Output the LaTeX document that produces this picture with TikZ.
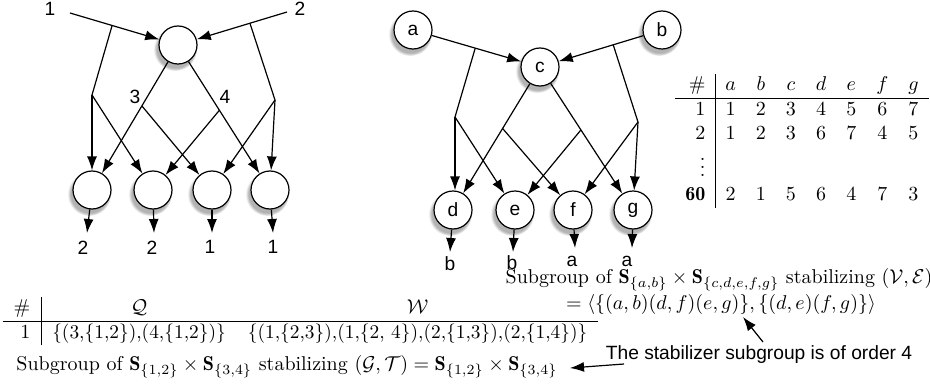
\documentclass[tikz,border=0pt]{standalone}
\usepackage{fontspec}
\usepackage{amsmath}
\usepackage{graphicx}
\newfontfamily\hv{Liberation Sans}
\usetikzlibrary{arrows.meta,shadows,calc}
\newcommand\hvf{\fontsize{9.6pt}{11pt}\selectfont\hv}
\begin{document}
\begin{tikzpicture}[x=0.5pt,y=-0.5pt,
  circ/.style={circle,draw,line width=0.6pt,fill=white,minimum size=19pt,inner sep=0pt,font=\hvf,
    circular drop shadow={shadow xshift=-1.2pt,shadow yshift=-1.8pt,shadow scale=1.15,opacity=0.6}},
  arr/.style={line width=0.6pt,-{Latex[length=7pt,width=5pt]}},
  ln/.style={line width=0.6pt},
  lab/.style={font=\hvf,inner sep=0pt},
  txt/.style={inner sep=0pt}]
\useasboundingbox (0,0) rectangle (930,385);
% ---------- left diagram
\node[circ] (T) at (178,45) {};
\node[circ] (L1) at (92,190) {};
\node[circ] (L2) at (153,190) {};
\node[circ] (L3) at (212,190) {};
\node[circ] (L4) at (270,190) {};
\node[lab] (n1) at (50,9) {1};
\node[lab] (n2) at (300,9) {2};
\node[lab] (n3) at (135,97) {3};
\node[lab] (n4) at (225,97) {4};
\coordinate (s1) at (70,13);
\coordinate (s2) at (287,12);
\draw[arr] (s1) -- (T);
\draw[arr] (s2) -- (T);
\coordinate (b1) at ($(s1)!0.39!(T)$);
\coordinate (b2) at ($(s2)!0.34!(T)$);
\coordinate (j1) at (92,95);
\coordinate (j2) at (275,100);
\draw[ln] (b1) -- (j1);
\draw[ln] (b2) -- (j2);
\draw[arr] (j1) -- (L1);
\draw[arr] (j1) -- (L2);
\draw[arr] (j2) -- (L4);
\draw[arr] (j2) -- (L3);
\draw[arr] (T) -- (L1);
\draw[arr] (T) -- (L4);
\coordinate (k1) at ($(T)!0.42!(L1)$);
\coordinate (k2) at ($(T)!0.45!(L4)$);
\draw[arr] (k1) -- (L3);
\draw[arr] (k2) -- (L2);
\coordinate (o1) at (87,233);
\coordinate (o2) at (154,233);
\coordinate (o3) at (212,233);
\coordinate (o4) at (273,233);
\draw[arr] (L1) -- (o1);
\draw[arr] (L2) -- (o2);
\draw[arr] (L3) -- (o3);
\draw[arr] (L4) -- (o4);
\node[lab] (m1) at (83,248) {2};
\node[lab] (m2) at (152,248) {2};
\node[lab] (m3) at (210,247) {1};
\node[lab] (m4) at (273,247) {1};
% ---------- right diagram
\node[circ] (a) at (413,30) {a};
\node[circ] (b) at (662,30) {b};
\node[circ] (c) at (540,67) {c};
\node[circ] (d) at (453,210) {d};
\node[circ] (e) at (515,210) {e};
\node[circ] (f) at (573,210) {f};
\node[circ] (g) at (633,210) {g};
\draw[arr] (a) -- (c);
\draw[arr] (b) -- (c);
\coordinate (p1) at ($(a)!0.49!(c)$);
\coordinate (p2) at ($(b)!0.40!(c)$);
\coordinate (q1) at (455,117);
\coordinate (q2) at (638,122);
\draw[ln] (p1) -- (q1);
\draw[ln] (p2) -- (q2);
\draw[arr] (q1) -- (q1 |- d.north);
\draw[arr] (q1) -- (e);
\draw[arr] (q2) -- (g);
\draw[arr] (q2) -- (f);
\draw[arr] (c) -- (d);
\draw[arr] (c) -- (g);
\coordinate (r1) at ($(c)!0.43!(d)$);
\coordinate (r2) at ($(c)!0.44!(g)$);
\draw[arr] (r1) -- (f);
\draw[arr] (r2) -- (e);
\coordinate (od) at (450,252);
\coordinate (oe) at (513,252);
\coordinate (of) at (575,248);
\coordinate (og) at (632,248);
\draw[arr] (d) -- (od);
\draw[arr] (e) -- (oe);
\draw[arr] (f) -- (of);
\draw[arr] (g) -- (og);
\node[lab] (ld) at (450,264) {b};
\node[lab] (le) at (512,263) {b};
\node[lab] (lf) at (572,261) {a};
\node[lab] (lg) at (627,261) {a};
% ---------- top right table
\node[txt] (tab1) at (802,141) {$\begin{array}{r|ccccccc}
\# & a & b & c & d & e & f & g\\ \hline
1 & 1 & 2 & 3 & 4 & 5 & 6 & 7\\
2 & 1 & 2 & 3 & 6 & 7 & 4 & 5\\
\vdots & & & & & & & \\
\mathbf{60} & 2 & 1 & 5 & 6 & 4 & 7 & 3
\end{array}$};
% ---------- bottom left table
\node[txt] (tab2) at (300.5,321) {\setlength{\arraycolsep}{5.5pt}$\begin{array}{r|cc}
\# & \mathcal{Q} & \mathcal{W}\\ \hline
1 & \scalebox{0.97}{\{(3,\{1,2\}),(4,\{1,2\})\}} & \scalebox{0.97}{\{(1,\{2,3\}),(1,\{2, 4\}),(2,\{1,3\}),(2,\{1,4\})\}}
\end{array}$};
\node[txt] (sub1) at (287,367) {Subgroup of $\mathbf{S}_{\{1,2\}}\times\mathbf{S}_{\{3,4\}}$ stabilizing $(\mathcal{G},\mathcal{T})=\mathbf{S}_{\{1,2\}}\times\mathbf{S}_{\{3,4\}}$};
% ---------- right texts
\node[txt] (sub2) at (719,280) {Subgroup of $\mathbf{S}_{\{a,b\}}\times\mathbf{S}_{\{c,d,e,f,g\}}$ stabilizing $(\mathcal{V},\mathcal{E})$};
\node[txt] (sub3) at (721,304) {$=\langle\{(a,b)(d,f)(e,g)\},\{(d,e)(f,g)\}\rangle$};
\node[lab] (stab) at (759,355) {The stabilizer subgroup is of order 4};
\coordinate (tipA) at (743,317);
\coordinate (tailA) at (763,342);
\coordinate (tipB) at (570,368);
\coordinate (tailB) at (624,364);
\draw[arr] (tailA) -- (tipA);
\draw[arr] (tailB) -- (tipB);
\end{tikzpicture}
\end{document}
